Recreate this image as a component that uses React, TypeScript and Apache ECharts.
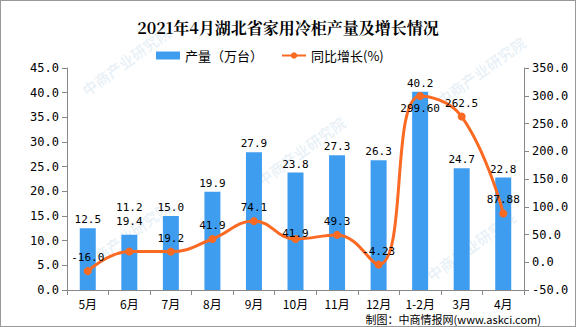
import React, { useEffect, useRef } from "react";
import * as echarts from "echarts";

const categories = ["5月", "6月", "7月", "8月", "9月", "10月", "11月", "12月", "1-2月", "3月", "4月"];
const production = [12.5, 11.2, 15.0, 19.9, 27.9, 23.8, 27.3, 26.3, 40.2, 24.7, 22.8];
const growth = [-16.0, 19.4, 19.2, 41.9, 74.1, 41.9, 49.3, -4.23, 299.6, 262.5, 87.88];
const growthLabels = ["-16.0", "19.4", "19.2", "41.9", "74.1", "41.9", "49.3", "-4.23", "299.60", "262.5", "87.88"];

const mono = "'DejaVu Sans Mono', 'Noto Sans CJK SC', monospace";

export default function App() {
  const ref = useRef<HTMLDivElement>(null);
  useEffect(() => {
    document.body.style.margin = "0";
    if (!ref.current) return;
    const chart = echarts.init(ref.current, undefined, { renderer: "svg" });
    const lineLabelOffsets: Record<number, [number, number]> = {
      1: [0, -16],
      5: [0, 8],
      8: [0, 26],
    };
    const barLabelOffsets: Record<number, [number, number]> = {
      1: [0, -19],
    };
    const lineData = growth.map((v, i) => {
      const item: any = { value: v };
      if (lineLabelOffsets[i]) item.label = { offset: lineLabelOffsets[i] };
      return item;
    });
    const barData = production.map((v, i) => {
      const item: any = { value: v };
      if (barLabelOffsets[i]) item.label = { offset: barLabelOffsets[i] };
      return item;
    });
    const watermarks = [
      [125, 60], [300, 150], [480, 70], [125, 235], [470, 245],
    ].map(([x, y]) => ({
      type: "text",
      x,
      y,
      rotation: Math.PI / 5,
      silent: true,
      z: -1,
      style: {
        text: "中商产业研究院",
        fill: "rgba(120,170,210,0.16)",
        font: "bold 15px 'Noto Sans CJK SC'",
        align: "center",
        verticalAlign: "middle",
      },
    }));
    chart.setOption({
      animation: false,
      title: {
        text: "2021年4月湖北省家用冷柜产量及增长情况",
        left: "center",
        top: 13,
        textStyle: { fontSize: 16, fontWeight: "bold", color: "#000", fontFamily: "'Noto Serif CJK SC', 'Noto Sans CJK SC', serif" },
      },
      legend: {
        top: 43,
        left: 150,
        itemGap: 18,
        textStyle: { fontSize: 13, color: "#000", fontFamily: "'Noto Sans CJK SC'" },
        data: [
          { name: "产量（万台）", icon: "rect", itemStyle: { color: "#3f9df0" } },
          { name: "同比增长(%)" },
        ],
        itemWidth: 24,
        itemHeight: 8,
      },
      grid: { left: 66, right: 51, top: 67, bottom: 36 },
      xAxis: {
        type: "category",
        data: categories,
        axisLine: { lineStyle: { color: "#888" } },
        axisTick: { show: true, alignWithLabel: false, length: 5, lineStyle: { color: "#888" } },
        axisLabel: { color: "#000", fontSize: 12, fontFamily: "'Noto Sans CJK SC'", margin: 7, interval: 0 },
      },
      yAxis: [
        {
          type: "value",
          min: 0,
          max: 45,
          interval: 5,
          axisLine: { show: true, lineStyle: { color: "#888" } },
          axisTick: { show: true, length: 5, lineStyle: { color: "#888" } },
          splitLine: { show: false },
          axisLabel: { color: "#000", fontSize: 12, fontFamily: mono, formatter: (v: number) => v.toFixed(1) },
        },
        {
          type: "value",
          min: -50,
          max: 350,
          interval: 50,
          axisLine: { show: true, lineStyle: { color: "#888" } },
          axisTick: { show: true, length: 5, lineStyle: { color: "#888" } },
          splitLine: { show: false },
          axisLabel: { color: "#000", fontSize: 12, fontFamily: mono, formatter: (v: number) => v.toFixed(1) },
        },
      ],
      series: [
        {
          name: "产量（万台）",
          type: "bar",
          data: barData,
          barWidth: 16,
          itemStyle: { color: "#3f9df0" },
          label: {
            show: true,
            position: "top",
            distance: 3,
            color: "#000",
            fontSize: 11,
            fontFamily: mono,
            formatter: (p: any) => Number(p.value).toFixed(1),
          },
        },
        {
          name: "同比增长(%)",
          type: "line",
          yAxisIndex: 1,
          data: lineData,
          smooth: 0.45,
          symbol: "circle",
          symbolSize: 8,
          lineStyle: { color: "#fb6a22", width: 3 },
          itemStyle: { color: "#fb6a22" },
          label: {
            show: true,
            position: "top",
            distance: 4,
            color: "#000",
            fontSize: 11,
            fontFamily: mono,
            formatter: (p: any) => growthLabels[p.dataIndex],
          },
        },
      ],
      graphic: [
        ...watermarks,
        {
          type: "text",
          right: 34,
          top: 312,
          style: {
            text: "制图：中商情报网(www.askci.com)",
            fill: "#000",
            font: "11px 'Noto Sans CJK SC'",
          },
        },
      ],
    });
    return () => chart.dispose();
  }, []);
  return (
    <div
      ref={ref}
      style={{ width: 576, height: 327, border: "1px solid #999", boxSizing: "border-box", background: "#fff" }}
    />
  );
}
